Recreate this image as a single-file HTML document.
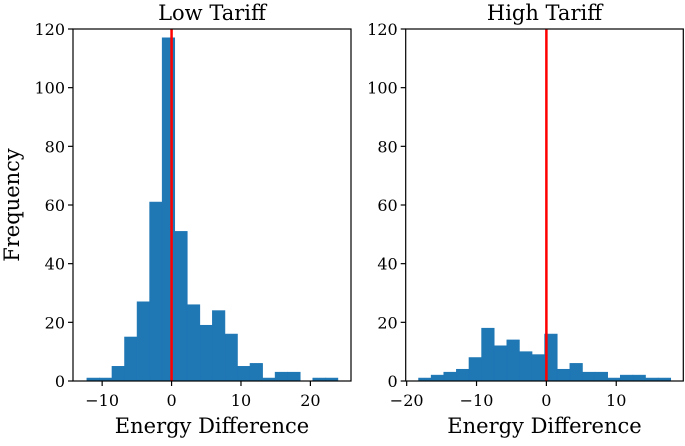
<!DOCTYPE html>
<html><head><meta charset="utf-8"><style>
body{margin:0;background:#fff;}
svg text{font-family:"DejaVu Serif","Liberation Serif",serif;fill:#000;}
</style></head><body>
<svg id="chart" width="685" height="441" xmlns="http://www.w3.org/2000/svg"></svg>
<script>
const lowCounts=[1,1,5,15,27,61,117,51,26,19,24,16,5,6,1,3,3,0,1,1];
const lowBinStart=-12.2, lowBinWidth=1.808;
const highCounts=[1,2,3,4,8,18,12,14,10,9,16,4,6,3,3,1,2,2,1,1];
const highBinStart=-18.3, highBinWidth=1.805;
const yTicks=[0,20,40,60,80,100,120];
const lowXTicks=[-10,0,10,20];
const highXTicks=[-20,-10,0,10];
const NS="http://www.w3.org/2000/svg";
const svg=document.getElementById('chart');
function mk(t,a,p){const e=document.createElementNS(NS,t);for(const k in a)e.setAttribute(k,a[k]);(p||svg).appendChild(e);return e;}
function panel(cfg){
  const g=mk('g',{});
  
  
  const X=v=>cfg.x0+(v-cfg.xmin)/(cfg.xmax-cfg.xmin)*(cfg.x1-cfg.x0);
  const Y=v=>cfg.yb-(v/120)*(cfg.yb-cfg.yt);
  cfg.counts.forEach((c,i)=>{
    const a=X(cfg.start+i*cfg.width),b=X(cfg.start+(i+1)*cfg.width);
    const r=mk('rect',{x:a,y:Y(c),width:b-a,height:Y(0)-Y(c),fill:'#1f77b4',stroke:'#1f77b4','stroke-width':0.6},g);
    
    
  });
  const l=mk('line',{x1:X(0),x2:X(0),y1:cfg.yt,y2:cfg.yb,stroke:'#ff0000','stroke-width':2.5},g);
  
  
  const fr=mk('rect',{x:cfg.x0,y:cfg.yt,width:cfg.x1-cfg.x0,height:cfg.yb-cfg.yt,fill:'none',stroke:'#000','stroke-width':1.2},g);
  
  
  yTicks.forEach(t=>{
    mk('line',{x1:cfg.x0-5,x2:cfg.x0,y1:Y(t),y2:Y(t),stroke:'#000','stroke-width':1.2},g);
    const tx=mk('text',{x:cfg.x0-8,y:Y(t)+6,'text-anchor':'end','font-size':16},g);
    tx.textContent=t;
    
    
  });
  cfg.xticks.forEach(t=>{
    mk('line',{x1:X(t),x2:X(t),y1:cfg.yb,y2:cfg.yb+5,stroke:'#000','stroke-width':1.2},g);
    const tx=mk('text',{x:X(t),y:cfg.yb+25,'text-anchor':'middle','font-size':16},g);
    tx.textContent=t<0?'\u2212'+(-t):t;
    
    
  });
  const ti=mk('text',{x:(cfg.x0+cfg.x1)/2,y:20,'text-anchor':'middle','font-size':21},g);
  ti.textContent=cfg.title;
  
  
  const xl=mk('text',{x:(cfg.x0+cfg.x1)/2,y:433,'text-anchor':'middle','font-size':21},g);
  xl.textContent='Energy Difference';
  
  
}
panel({name:'low-tariff-panel',title:'Low Tariff',counts:lowCounts,start:lowBinStart,width:lowBinWidth,x0:73,x1:351,xmin:-14.2,xmax:25.85,yt:29,yb:381,xticks:lowXTicks});
panel({name:'high-tariff-panel',title:'High Tariff',counts:highCounts,start:highBinStart,width:highBinWidth,x0:405.7,x1:683.3,xmin:-20.14,xmax:19.6,yt:29,yb:381,xticks:highXTicks});
const yl=mk('text',{x:0,y:0,'text-anchor':'middle','font-size':21,transform:'translate(19,205) rotate(-90)'});
yl.textContent='Frequency';


</script>
</body></html>
